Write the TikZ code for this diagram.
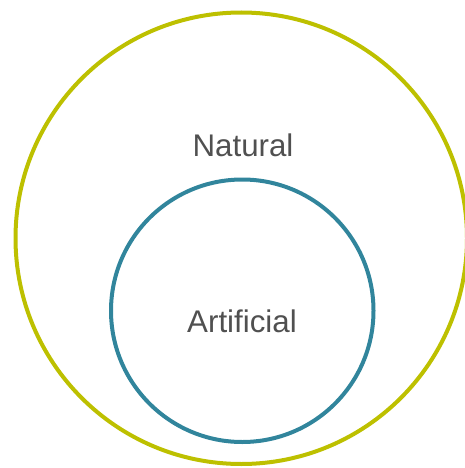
\documentclass[tikz,border=0pt]{standalone}
\usepackage{fontspec}
\setmainfont{Liberation Sans}
\definecolor{outerc}{HTML}{BDC000}
\definecolor{innerc}{HTML}{31859C}
\definecolor{textc}{HTML}{505050}
\begin{document}
\begin{tikzpicture}[x=1pt,y=-1pt,
  ring/.style={draw,line width=4pt,fill=none},
  lbl/.style={text=textc,font=\fontsize{31.3}{34}\selectfont,anchor=base,inner sep=0pt}]
\useasboundingbox (0,0) rectangle (464,468);
\node[ring,outerc,circle,minimum size=451.5pt,inner sep=0pt] (outer) at (241.25,238.25) {};
\node[ring,innerc,circle,minimum size=262.5pt,inner sep=0pt] (inner) at (242.25,310.75) {};
\node[lbl] (nat) at (243,156) {Natural};
\node[lbl] (art) at (242,332) {Artificial};
\end{tikzpicture}
\end{document}
